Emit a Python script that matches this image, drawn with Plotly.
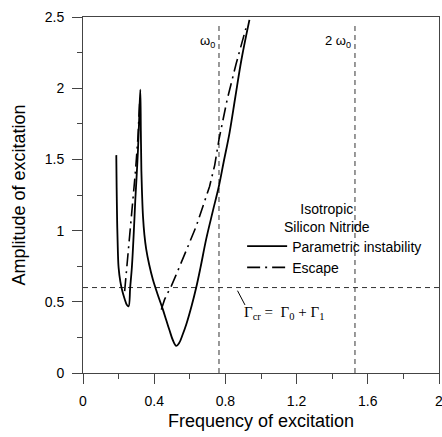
import plotly.graph_objects as go

# Parametric instability boundary (solid)
pi_x = [0.187, 0.189, 0.192, 0.196, 0.200, 0.210, 0.222, 0.234, 0.246, 0.256, 0.265, 0.275, 0.285,
        0.294, 0.302, 0.309, 0.316, 0.322, 0.325, 0.328, 0.332, 0.337, 0.345, 0.355, 0.372, 0.393,
        0.420, 0.449, 0.468, 0.486, 0.505, 0.524, 0.540, 0.560, 0.580, 0.610, 0.636, 0.660, 0.692,
        0.730, 0.763, 0.790, 0.823, 0.856, 0.890, 0.935]
pi_y = [1.53, 1.30, 1.05, 0.85, 0.74, 0.64, 0.57, 0.52, 0.48, 0.468, 0.60, 0.75, 0.98,
        1.22, 1.40, 1.57, 1.80, 1.99, 1.70, 1.42, 1.25, 1.10, 0.97, 0.87, 0.76, 0.655,
        0.55, 0.445, 0.37, 0.30, 0.23, 0.19, 0.21, 0.27, 0.34, 0.47, 0.60, 0.74, 0.94,
        1.14, 1.31, 1.48, 1.685, 1.94, 2.20, 2.48]

# Escape boundary (dash-dot), two branches
esc_x = [0.234, 0.245, 0.258, 0.270, 0.280, 0.295, 0.308, 0.318, None,
         0.440, 0.458, 0.475, 0.496, 0.520, 0.542, 0.590, 0.636, 0.675, 0.711, 0.740, 0.764,
         0.810, 0.860, 0.915]
esc_y = [0.575, 0.72, 0.90, 1.05, 1.17, 1.42, 1.64, 1.89, None,
         0.445, 0.515, 0.56, 0.61, 0.68, 0.75, 0.89, 1.03, 1.17, 1.31, 1.46, 1.64,
         1.92, 2.17, 2.42]

omega0 = 0.764
ref_freqs = [omega0, 2 * omega0]
ref_labels = ["ω<sub>0</sub>", "2 ω<sub>0</sub>"]
gamma_cr = 0.6

x_ticks = [0, 0.4, 0.8, 1.2, 1.6, 2]
x_tick_text = ["0", "0.4", "0.8", "1.2", "1.6", "2"]
y_ticks = [0, 0.5, 1, 1.5, 2, 2.5]
y_tick_text = ["0", "0.5", "1", "1.5", "2", "2.5"]

FONT = "Liberation Sans, Arial, sans-serif"

fig = go.Figure()
fig.add_trace(go.Scatter(x=pi_x, y=pi_y, mode="lines", name="Parametric instability",
                         line=dict(color="black", width=1.8), line_shape="spline"))
fig.add_trace(go.Scatter(x=esc_x, y=esc_y, mode="lines", name="Escape",
                         line=dict(color="black", width=1.6, dash="13px,5px,2px,5px"),
                         connectgaps=False))

dash_style = dict(color="#333333", width=1, dash="5px,4px")
for f in ref_freqs:
    fig.add_shape(type="line", x0=f, x1=f, y0=0, y1=2.46, xref="x", yref="y", line=dash_style, layer="below")
fig.add_shape(type="line", x0=0, x1=2, y0=gamma_cr, y1=gamma_cr, xref="x", yref="y", line=dash_style, layer="below")

fig.add_annotation(x=ref_freqs[0] - 0.01, y=2.33, text=ref_labels[0], showarrow=False,
                   xanchor="right", font=dict(size=13, family=FONT, color="black"))
fig.add_annotation(x=ref_freqs[1] - 0.01, y=2.33, text=ref_labels[1], showarrow=False,
                   xanchor="right", font=dict(size=13, family=FONT, color="black"))

# Legend heading
fig.add_annotation(x=1.372, y=0.955, text="Isotropic<br>Silicon Nitride", showarrow=False,
                   xanchor="center", yanchor="bottom", align="center",
                   font=dict(size=14, family=FONT, color="black"))

# Gamma_cr label with leader line
fig.add_shape(type="line", x0=0.868, y0=0.578, x1=0.910, y1=0.478, xref="x", yref="y",
              line=dict(color="black", width=1))
fig.add_annotation(x=0.895, y=0.423, text="Γ<sub>cr</sub> =  Γ<sub>0</sub> + Γ<sub>1</sub>",
                   showarrow=False, xanchor="left",
                   font=dict(size=15, family="Liberation Serif, Times New Roman, serif", color="black"))

fig.update_layout(
    width=442, height=437,
    margin=dict(l=83, r=3, t=17, b=64),
    paper_bgcolor="white", plot_bgcolor="white",
    font=dict(family=FONT, size=14, color="black"),
    legend=dict(
        x=0.447, y=0.40, xanchor="left", yanchor="top",
        bgcolor="rgba(0,0,0,0)", borderwidth=0,
        font=dict(size=14, family=FONT),
        itemwidth=40, tracegroupgap=0,
    ),
    xaxis=dict(range=[0, 2], tickvals=x_ticks, ticktext=x_tick_text, automargin=False,
               ticklabeloverflow="allow", ticklabelstandoff=5,
               ticks="outside", ticklen=10, tickwidth=1, tickcolor="#444",
               minor=dict(ticks="outside", ticklen=5, dtick=0.2, tick0=0, tickcolor="#444", showgrid=False),
               showline=True, linecolor="#444", linewidth=1, mirror=True, showgrid=False, zeroline=False,
               title=dict(text="Frequency of excitation", font=dict(size=18, family=FONT), standoff=6),
               tickfont=dict(size=14, family=FONT)),
    yaxis=dict(range=[0, 2.5], tickvals=y_ticks, ticktext=y_tick_text, automargin=False,
               ticklabelstandoff=5,
               ticks="outside", ticklen=10, tickwidth=1, tickcolor="#444",
               minor=dict(ticks="outside", ticklen=5, dtick=0.25, tick0=0, tickcolor="#444", showgrid=False),
               showline=True, linecolor="#444", linewidth=1, mirror=True, showgrid=False, zeroline=False,
               title=dict(text="Amplitude of excitation", font=dict(size=18, family=FONT), standoff=14),
               tickfont=dict(size=14, family=FONT)),
)

fig.write_html("out.html", config={"displayModeBar": False},
               post_script="document.body.style.margin='0';document.body.style.overflow='hidden';")
